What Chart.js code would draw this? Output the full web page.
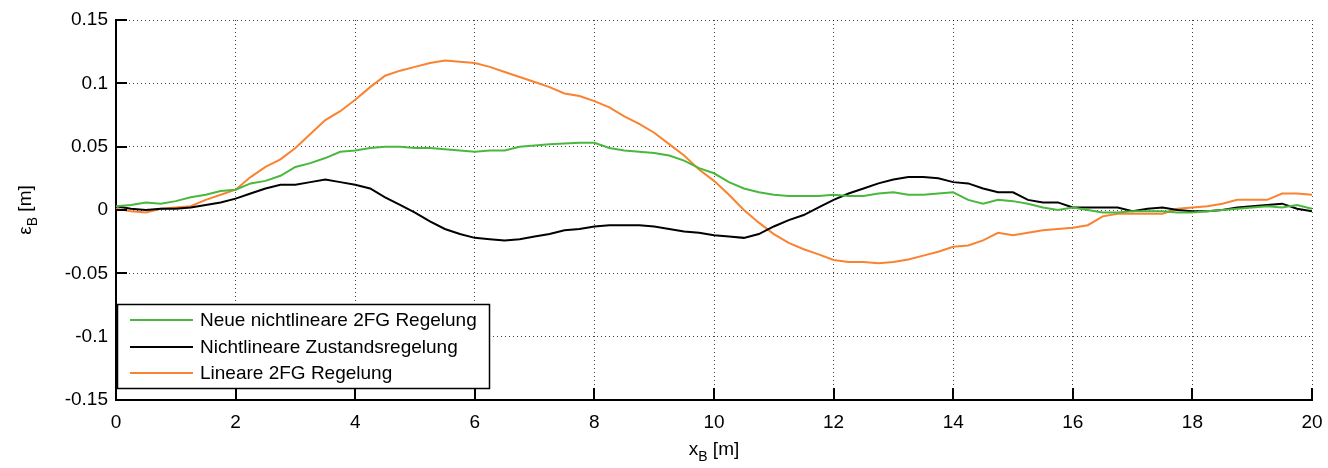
<!DOCTYPE html>
<html>
<head>
<meta charset="utf-8">
<script src="https://cdn.jsdelivr.net/npm/chart.js@4/dist/chart.umd.min.js"></script>
<style>
  html, body { margin: 0; padding: 0; background: #fff; }
  #wrap { width: 1328px; height: 468px; }
</style>
</head>
<body>
<div id="wrap"><canvas id="errChart" width="1328" height="468"></canvas></div>
<script>
// x_B positions [m]
const xPos = [
    0, 0.25, 0.5, 0.75, 1, 1.25, 1.5, 1.75, 2, 2.25, 2.5, 2.75, 3, 3.25, 3.5, 3.75,
    4, 4.25, 4.5, 4.75, 5, 5.25, 5.5, 5.75, 6, 6.25, 6.5, 6.75, 7, 7.25, 7.5, 7.75,
    8, 8.25, 8.5, 8.75, 9, 9.25, 9.5, 9.75, 10, 10.25, 10.5, 10.75, 11, 11.25, 11.5, 11.75,
    12, 12.25, 12.5, 12.75, 13, 13.25, 13.5, 13.75, 14, 14.25, 14.5, 14.75, 15, 15.25, 15.5, 15.75,
    16, 16.25, 16.5, 16.75, 17, 17.25, 17.5, 17.75, 18, 18.25, 18.5, 18.75, 19, 19.25, 19.5, 19.75, 20
];

const neueNichtlinear = [
    0.003, 0.004, 0.006, 0.005, 0.007, 0.010, 0.012, 0.015, 0.016, 0.021, 0.023, 0.027, 0.034, 0.037, 0.041, 0.046,
    0.047, 0.049, 0.050, 0.050, 0.049, 0.049, 0.048, 0.047, 0.046, 0.047, 0.047, 0.050, 0.051, 0.052, 0.0525, 0.053,
    0.053, 0.049, 0.047, 0.046, 0.045, 0.043, 0.039, 0.033, 0.029, 0.022, 0.017, 0.014, 0.012, 0.011, 0.011, 0.011,
    0.012, 0.011, 0.011, 0.013, 0.014, 0.012, 0.012, 0.013, 0.014, 0.008, 0.005, 0.008, 0.007, 0.005, 0.002, 0.000,
    0.002, 0.000, -0.002, -0.002, -0.001, -0.001, -0.001, -0.002, -0.002, -0.001, 0.000, 0.001, 0.002, 0.003, 0.002, 0.004, 0.001
];

const zustandsregelung = [
    0.003, 0.001, 0.000, 0.001, 0.001, 0.002, 0.004, 0.006, 0.009, 0.013, 0.017, 0.020, 0.020, 0.022, 0.024, 0.022,
    0.020, 0.017, 0.010, 0.004, -0.002, -0.009, -0.015, -0.019, -0.022, -0.023, -0.024, -0.023, -0.021, -0.019, -0.016, -0.015,
    -0.013, -0.012, -0.012, -0.012, -0.013, -0.015, -0.017, -0.018, -0.020, -0.021, -0.022, -0.019, -0.013, -0.008, -0.004, 0.002,
    0.008, 0.013, 0.017, 0.021, 0.024, 0.026, 0.026, 0.025, 0.022, 0.021, 0.017, 0.014, 0.014, 0.008, 0.006, 0.006,
    0.002, 0.002, 0.002, 0.002, -0.001, 0.001, 0.002, 0.000, -0.001, -0.001, 0.000, 0.002, 0.003, 0.004, 0.005, 0.001, -0.001
];

const linear2FG = [
    0.001, -0.001, -0.002, 0.001, 0.002, 0.003, 0.008, 0.012, 0.016, 0.026, 0.034, 0.040, 0.049, 0.060, 0.071, 0.078,
    0.087, 0.097, 0.106, 0.110, 0.113, 0.116, 0.118, 0.117, 0.116, 0.113, 0.109, 0.105, 0.101, 0.097, 0.092, 0.090,
    0.086, 0.081, 0.074, 0.068, 0.061, 0.052, 0.043, 0.032, 0.023, 0.012, 0.000, -0.010, -0.019, -0.026, -0.031, -0.035,
    -0.0395, -0.041, -0.041, -0.042, -0.041, -0.039, -0.036, -0.033, -0.029, -0.028, -0.024, -0.018, -0.020, -0.018, -0.016, -0.015,
    -0.014, -0.012, -0.005, -0.003, -0.003, -0.003, -0.003, 0.001, 0.002, 0.003, 0.005, 0.008, 0.008, 0.008, 0.013, 0.013, 0.012
];

const seriesNames = ['Neue nichtlineare 2FG Regelung', 'Nichtlineare Zustandsregelung', 'Lineare 2FG Regelung'];
const xTicks = [0, 2, 4, 6, 8, 10, 12, 14, 16, 18, 20];
const yTicks = [-0.15, -0.1, -0.05, 0, 0.05, 0.1, 0.15];

const FONT = '"Liberation Sans", Arial, Helvetica, sans-serif';
const MAIN = '19px ' + FONT;
const SUB = '14px ' + FONT;

function toPoints(ys) {
    return xPos.map((x, i) => ({ x: x, y: ys[i] }));
}

// draws "main" + subscript + rest, centred on cx along the baseline
function drawSubText(ctx, main, sub, rest, cx, base) {
    ctx.font = MAIN;
    const w1 = ctx.measureText(main).width;
    const w3 = ctx.measureText(rest).width;
    ctx.font = SUB;
    const w2 = ctx.measureText(sub).width;
    const start = cx - (w1 + w2 + w3) / 2;
    ctx.font = MAIN;
    ctx.fillText(main, start, base);
    ctx.font = SUB;
    ctx.fillText(sub, start + w1, base + 6);
    ctx.font = MAIN;
    ctx.fillText(rest, start + w1 + w2, base);
}

// ticks pointing into the plot, axis titles with subscripts, legend box
const matlabLook = {
    id: 'matlabLook',
    afterDraw(chart) {
        const ctx = chart.ctx;
        const area = chart.chartArea;
        const xs = chart.scales.x;
        const ys = chart.scales.y;

        ctx.save();
        ctx.strokeStyle = '#000';
        ctx.lineWidth = 2;
        ctx.beginPath();
        xTicks.forEach(v => {
            const px = Math.round(xs.getPixelForValue(v));
            ctx.moveTo(px, area.bottom);
            ctx.lineTo(px, area.bottom - 12);
        });
        yTicks.forEach(v => {
            const py = Math.round(ys.getPixelForValue(v));
            ctx.moveTo(area.left, py);
            ctx.lineTo(area.left + 11, py);
        });
        ctx.stroke();

        ctx.fillStyle = '#000';
        ctx.textBaseline = 'alphabetic';
        drawSubText(ctx, 'x', 'B', ' [m]', (area.left + area.right) / 2, 455);

        ctx.save();
        ctx.translate(31, (area.top + area.bottom) / 2);
        ctx.rotate(-Math.PI / 2);
        drawSubText(ctx, '\u03b5', 'B', ' [m]', 0, 0);
        ctx.restore();

        // legend
        const lx = 117, ly = 304, lw = 373, lh = 85;
        ctx.fillStyle = '#fff';
        ctx.fillRect(lx, ly, lw, lh);
        ctx.strokeStyle = '#000';
        ctx.lineWidth = 1.5;
        ctx.strokeRect(lx + 0.5, ly + 0.5, lw - 1, lh - 1);
        const rows = [320, 347, 373];
        chart.data.datasets.forEach((ds, i) => {
            ctx.strokeStyle = ds.borderColor;
            ctx.lineWidth = 2;
            ctx.beginPath();
            ctx.moveTo(130, rows[i]);
            ctx.lineTo(193, rows[i]);
            ctx.stroke();
            ctx.fillStyle = '#000';
            ctx.font = MAIN;
            ctx.textBaseline = 'middle';
            ctx.fillText(ds.label, 200, rows[i] + 1);
        });
        ctx.restore();
    }
};

const ctx = document.querySelector('#errChart').getContext('2d');
const errChart = new Chart(ctx, {
    type: 'line',
    data: {
        datasets: [{
            label: seriesNames[0],
            data: toPoints(neueNichtlinear),
            borderColor: '#49b83c',
            borderWidth: 2,
            pointRadius: 0,
            tension: 0
        }, {
            label: seriesNames[1],
            data: toPoints(zustandsregelung),
            borderColor: '#000000',
            borderWidth: 2,
            pointRadius: 0,
            tension: 0
        }, {
            label: seriesNames[2],
            data: toPoints(linear2FG),
            borderColor: '#f98330',
            borderWidth: 2,
            pointRadius: 0,
            tension: 0
        }]
    },
    options: {
        responsive: false,
        animation: false,
        devicePixelRatio: 1,
        layout: {
            padding: { top: 20, right: 16, left: 0, bottom: 0 }
        },
        plugins: {
            legend: { display: false },
            tooltip: { enabled: false }
        },
        scales: {
            x: {
                type: 'linear',
                min: 0,
                max: 20,
                afterFit: (scale) => {
                    scale.height = 68;
                    scale.paddingLeft = 0;
                    scale.paddingRight = 0;
                },
                afterBuildTicks: (scale) => { scale.ticks = xTicks.map(v => ({ value: v })); },
                ticks: {
                    color: '#000',
                    padding: 11,
                    maxRotation: 0,
                    font: { family: FONT, size: 19 },
                    callback: (v) => String(v)
                },
                grid: {
                    color: 'rgba(0,0,0,0.75)',
                    lineWidth: 1,
                    drawTicks: false
                },
                border: {
                    display: true,
                    color: '#000',
                    width: 2,
                    dash: [1, 3]
                }
            },
            y: {
                min: -0.15,
                max: 0.15,
                afterFit: (scale) => {
                    scale.width = 116;
                    scale.paddingTop = 0;
                    scale.paddingBottom = 0;
                },
                afterBuildTicks: (scale) => { scale.ticks = yTicks.map(v => ({ value: v })); },
                ticks: {
                    color: '#000',
                    padding: 8,
                    font: { family: FONT, size: 19 },
                    callback: (v) => String(Number(v.toFixed(2)))
                },
                grid: {
                    color: 'rgba(0,0,0,0.75)',
                    lineWidth: 1,
                    drawTicks: false
                },
                border: {
                    display: true,
                    color: '#000',
                    width: 2,
                    dash: [1, 3]
                }
            }
        }
    },
    plugins: [matlabLook]
});
</script>
</body>
</html>
